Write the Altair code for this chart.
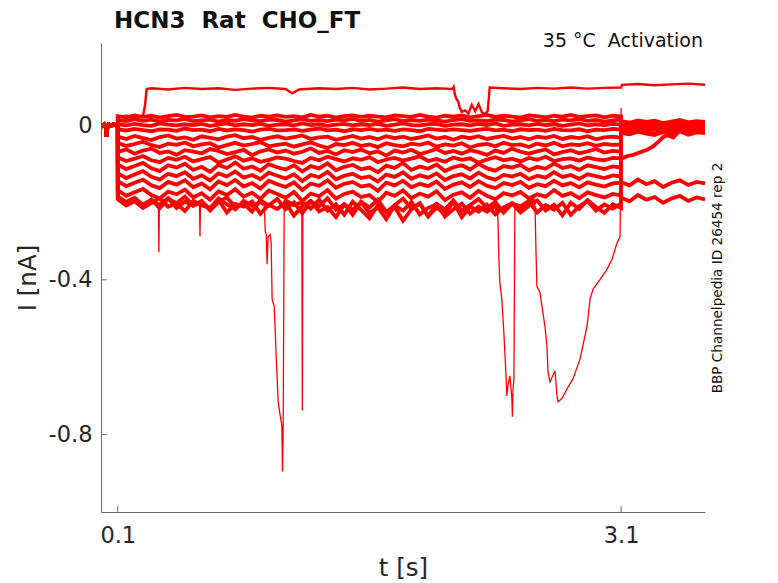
import altair as alt
import pandas as pd

# ---- values (t in s, I in nA) ----
X_TICKS = [0.1, 3.1]
Y_TICKS = [0, -0.4, -0.8]

# common baseline before the step
PRE_T = [0.0, 0.01, 0.02, 0.03, 0.034, 0.038, 0.045, 0.06, 0.075, 0.09, 0.1]
PRE_I = [0.001, -0.002, 0.002, -0.001, -0.030, -0.002, 0.001, -0.002, 0.002, -0.001, 0.000]

T_BAND = [0.1, 0.15, 0.2, 0.25, 0.3, 0.35, 0.4, 0.45, 0.5, 0.55,
          0.6, 0.65, 0.7, 0.75, 0.8, 0.85, 0.9, 0.95, 1.0, 1.05,
          1.1, 1.15, 1.2, 1.25, 1.3, 1.35, 1.4, 1.45, 1.5, 1.55,
          1.6, 1.65, 1.7, 1.75, 1.8, 1.85, 1.9, 1.95, 2.0, 2.05,
          2.1, 2.15, 2.2, 2.25, 2.3, 2.35, 2.4, 2.45, 2.5, 2.55,
          2.6, 2.65, 2.7, 2.75, 2.8, 2.85, 2.9, 2.95, 3.0, 3.05,
          3.1]
T_TAIL = [3.1, 3.15, 3.2, 3.25, 3.3, 3.35, 3.4, 3.45, 3.5, 3.55, 3.6]

B01 = [0.023, 0.020, 0.025, 0.021, 0.024, 0.019, 0.023, 0.026, 0.021, 0.022,
       0.025, 0.020, 0.023, 0.021, 0.026, 0.022, 0.019, 0.024, 0.022, 0.025,
       0.021, 0.023, 0.020, 0.026, 0.022, 0.024, 0.019, 0.023, 0.025, 0.021,
       0.024, 0.022, 0.020, 0.025, 0.023, 0.021, 0.026, 0.022, 0.019, 0.024,
       0.022, 0.025, 0.020, 0.023, 0.026, 0.021, 0.024, 0.022, 0.019, 0.025,
       0.023, 0.020, 0.024, 0.022, 0.026, 0.021, 0.023, 0.025, 0.020, 0.024,
       0.022]
B01_TAIL = [0.010, 0.006, 0.012, 0.008, 0.011, 0.005, 0.009, 0.013, 0.007, 0.010, 0.008]

B02 = [0.013, 0.010, 0.015, 0.011, 0.014, 0.009, 0.013, 0.012, 0.016, 0.010,
       0.012, 0.014, 0.009, 0.013, 0.011, 0.015, 0.012, 0.010, 0.014, 0.013,
       0.009, 0.012, 0.015, 0.011, 0.013, 0.010, 0.014, 0.012, 0.016, 0.011,
       0.013, 0.009, 0.012, 0.015, 0.010, 0.013, 0.011, 0.014, 0.012, 0.009,
       0.013, 0.015, 0.011, 0.012, 0.010, 0.014, 0.013, 0.009, 0.012, 0.015,
       0.011, 0.013, 0.010, 0.014, 0.012, 0.016, 0.011, 0.013, 0.009, 0.012,
       0.014]
B02_TAIL = [0.003, -0.001, 0.005, 0.001, 0.004, -0.002, 0.002, 0.006, 0.000, 0.003, 0.001]

B03 = [0.002, -0.001, 0.003, 0.000, -0.002, 0.004, 0.001, -0.001, 0.002, 0.000,
       0.003, -0.002, 0.001, 0.004, -0.001, 0.002, 0.000, 0.003, -0.002, 0.001,
       0.002, -0.001, 0.004, 0.000, 0.002, -0.002, 0.001, 0.003, -0.001, 0.002,
       0.000, 0.003, -0.002, 0.001, 0.004, 0.000, -0.001, 0.002, 0.003, -0.002,
       0.001, 0.002, -0.001, 0.003, 0.000, 0.004, -0.002, 0.001, 0.002, -0.001,
       0.003, 0.000, 0.002, -0.002, 0.001, 0.004, -0.001, 0.002, 0.000, 0.003,
       0.001]
B03_TAIL = [-0.004, -0.008, -0.002, -0.006, -0.003, -0.009, -0.005, -0.001, -0.007, -0.004, -0.006]

B04 = [-0.011, -0.014, -0.010, -0.013, -0.016, -0.011, -0.012, -0.015, -0.009, -0.013,
       -0.012, -0.016, -0.010, -0.014, -0.011, -0.013, -0.017, -0.012, -0.010, -0.014,
       -0.013, -0.011, -0.015, -0.012, -0.009, -0.014, -0.012, -0.016, -0.011, -0.013,
       -0.010, -0.014, -0.012, -0.015, -0.011, -0.013, -0.016, -0.010, -0.012, -0.014,
       -0.011, -0.013, -0.015, -0.012, -0.010, -0.014, -0.012, -0.016, -0.011, -0.013,
       -0.012, -0.015, -0.010, -0.013, -0.014, -0.011, -0.016, -0.012, -0.013, -0.010,
       -0.012]
B04_TAIL = [-0.010, -0.014, -0.008, -0.013, -0.009, -0.016, -0.011, -0.007, -0.012, -0.015, -0.010]

B05 = [-0.030, -0.036, -0.028, -0.034, -0.039, -0.031, -0.027, -0.035, -0.032, -0.038,
       -0.029, -0.033, -0.037, -0.030, -0.026, -0.034, -0.031, -0.038, -0.033, -0.029,
       -0.035, -0.031, -0.027, -0.036, -0.032, -0.030, -0.038, -0.033, -0.028, -0.035,
       -0.031, -0.037, -0.029, -0.034, -0.030, -0.036, -0.032, -0.027, -0.035, -0.031,
       -0.038, -0.030, -0.034, -0.029, -0.036, -0.032, -0.028, -0.035, -0.031, -0.037,
       -0.030, -0.033, -0.028, -0.036, -0.031, -0.034, -0.029, -0.037, -0.032, -0.030,
       -0.033]
B05_TAIL = [-0.016, -0.020, -0.013, -0.018, -0.022, -0.015, -0.019, -0.014, -0.021, -0.017, -0.018]

B06 = [-0.046, -0.054, -0.049, -0.043, -0.052, -0.057, -0.048, -0.051, -0.045, -0.055,
       -0.050, -0.047, -0.058, -0.052, -0.046, -0.053, -0.049, -0.044, -0.055, -0.051,
       -0.048, -0.056, -0.050, -0.045, -0.053, -0.059, -0.049, -0.052, -0.046, -0.054,
       -0.050, -0.057, -0.047, -0.052, -0.055, -0.048, -0.051, -0.045, -0.056, -0.050,
       -0.053, -0.047, -0.058, -0.051, -0.049, -0.055, -0.046, -0.052, -0.050, -0.057,
       -0.048, -0.053, -0.046, -0.055, -0.050, -0.052, -0.047, -0.054, -0.049, -0.051,
       -0.050]
B06_TAIL = [0.006, 0.002, 0.009, 0.004, 0.007, 0.001, 0.005, 0.010, 0.003, 0.006, 0.004]

B07 = [-0.070, -0.063, -0.074, -0.066, -0.061, -0.072, -0.068, -0.077, -0.065, -0.069,
       -0.073, -0.062, -0.067, -0.075, -0.070, -0.064, -0.078, -0.068, -0.063, -0.071,
       -0.066, -0.074, -0.069, -0.060, -0.072, -0.067, -0.076, -0.065, -0.070, -0.063,
       -0.073, -0.068, -0.079, -0.066, -0.071, -0.064, -0.075, -0.069, -0.062, -0.072,
       -0.067, -0.074, -0.065, -0.070, -0.077, -0.066, -0.072, -0.061, -0.069, -0.074,
       -0.068, -0.063, -0.076, -0.070, -0.065, -0.073, -0.068, -0.062, -0.071, -0.067,
       -0.069]
B07_TAIL = [-0.007, -0.011, -0.004, -0.009, -0.005, -0.012, -0.008, -0.003, -0.010, -0.006, -0.009]

B08 = [-0.084, -0.093, -0.087, -0.080, -0.091, -0.096, -0.085, -0.090, -0.082, -0.094,
       -0.088, -0.083, -0.097, -0.089, -0.081, -0.092, -0.086, -0.095, -0.090, -0.084,
       -0.087, -0.093, -0.098, -0.085, -0.091, -0.082, -0.088, -0.094, -0.086, -0.090,
       -0.083, -0.096, -0.089, -0.085, -0.092, -0.087, -0.081, -0.093, -0.088, -0.095,
       -0.084, -0.090, -0.086, -0.097, -0.089, -0.083, -0.091, -0.087, -0.094, -0.085,
       -0.090, -0.082, -0.093, -0.088, -0.086, -0.092, -0.084, -0.089, -0.091, -0.085,
       -0.086]
# slow recovery after the step back
R_T = [3.1, 3.106, 3.14, 3.172, 3.21, 3.255, 3.29, 3.315, 3.351, 3.375, 3.41, 3.453, 3.5, 3.55, 3.6]
R_I = [-0.082, -0.086, -0.080, -0.077, -0.071, -0.064, -0.055, -0.046, -0.031, -0.026,
       -0.032, -0.013, -0.009, -0.015, -0.011]

B09 = [-0.102, -0.114, -0.106, -0.098, -0.112, -0.119, -0.104, -0.110, -0.100, -0.116,
       -0.108, -0.121, -0.103, -0.111, -0.097, -0.113, -0.107, -0.118, -0.101, -0.109,
       -0.115, -0.104, -0.120, -0.106, -0.112, -0.099, -0.117, -0.108, -0.103, -0.114,
       -0.110, -0.122, -0.105, -0.111, -0.098, -0.116, -0.107, -0.113, -0.102, -0.119,
       -0.109, -0.104, -0.115, -0.100, -0.112, -0.118, -0.106, -0.110, -0.103, -0.117,
       -0.108, -0.113, -0.099, -0.111, -0.106, -0.116, -0.104, -0.109, -0.114, -0.107,
       -0.110]
B09_TAIL = [-0.002, -0.006, 0.001, -0.004, -0.008, -0.001, -0.005, 0.002, -0.007, -0.003, -0.005]

B10 = [-0.124, -0.137, -0.128, -0.119, -0.134, -0.141, -0.126, -0.132, -0.122, -0.139,
       -0.130, -0.143, -0.125, -0.133, -0.120, -0.136, -0.129, -0.140, -0.123, -0.131,
       -0.138, -0.127, -0.145, -0.129, -0.135, -0.121, -0.140, -0.131, -0.126, -0.137,
       -0.133, -0.146, -0.128, -0.134, -0.122, -0.139, -0.130, -0.136, -0.125, -0.142,
       -0.132, -0.127, -0.138, -0.123, -0.135, -0.141, -0.129, -0.133, -0.126, -0.140,
       -0.131, -0.136, -0.122, -0.134, -0.129, -0.139, -0.127, -0.132, -0.137, -0.130,
       -0.133]
B10_TAIL = [-0.012, -0.017, -0.010, -0.015, -0.011, -0.019, -0.013, -0.009, -0.016, -0.012, -0.014]

B11 = [-0.145, -0.158, -0.149, -0.141, -0.156, -0.163, -0.147, -0.154, -0.143, -0.161,
       -0.151, -0.166, -0.146, -0.155, -0.142, -0.159, -0.150, -0.164, -0.144, -0.153,
       -0.160, -0.148, -0.168, -0.151, -0.157, -0.143, -0.162, -0.152, -0.147, -0.159,
       -0.155, -0.170, -0.149, -0.156, -0.144, -0.161, -0.152, -0.158, -0.146, -0.165,
       -0.154, -0.148, -0.160, -0.145, -0.157, -0.163, -0.150, -0.155, -0.147, -0.162,
       -0.153, -0.158, -0.144, -0.156, -0.150, -0.161, -0.148, -0.154, -0.159, -0.151,
       -0.149]
B11_TAIL = [-0.148, -0.156, -0.141, -0.153, -0.145, -0.160, -0.149, -0.143, -0.155, -0.147, -0.151]

B12 = [-0.168, -0.183, -0.174, -0.165, -0.181, -0.190, -0.172, -0.179, -0.167, -0.187,
       -0.176, -0.193, -0.171, -0.181, -0.166, -0.185, -0.175, -0.191, -0.169, -0.178,
       -0.188, -0.173, -0.196, -0.177, -0.184, -0.168, -0.190, -0.178, -0.172, -0.186,
       -0.181, -0.199, -0.175, -0.183, -0.169, -0.189, -0.177, -0.185, -0.171, -0.194,
       -0.180, -0.174, -0.188, -0.170, -0.183, -0.192, -0.176, -0.182, -0.173, -0.190,
       -0.179, -0.185, -0.168, -0.183, -0.176, -0.189, -0.174, -0.181, -0.187, -0.178,
       -0.182]
B12_TAIL = [-0.188, -0.197, -0.181, -0.193, -0.186, -0.201, -0.190, -0.183, -0.196, -0.187, -0.192]

# trace with the deep dip near 1.08 s
A_T1 = [0.1, 0.15, 0.2, 0.25, 0.3, 0.35, 0.4, 0.45, 0.5, 0.55,
        0.6, 0.65, 0.7, 0.75, 0.8, 0.85, 0.9, 0.95, 0.973]
A_I1 = [-0.186, -0.203, -0.191, -0.212, -0.197, -0.206, -0.189, -0.214, -0.198, -0.207,
        -0.201, -0.215, -0.190, -0.205, -0.218, -0.196, -0.209, -0.199, -0.206]
A_DIP_T = [0.973, 0.979, 0.985, 0.99, 0.996, 1.008, 1.014, 1.02, 1.032,
           1.038, 1.044, 1.05, 1.056, 1.068, 1.078, 1.082, 1.086, 1.092]
A_DIP_I = [-0.206, -0.275, -0.283, -0.360, -0.288, -0.283, -0.304, -0.450, -0.468,
           -0.527, -0.597, -0.656, -0.715, -0.751, -0.777, -0.895, -0.777, -0.193]
A_T2 = [1.092, 1.15, 1.2]
A_I2 = [-0.193, -0.207, -0.199,
        -0.216, -0.193, -0.221, -0.205, -0.232, -0.198, -0.219, -0.241, -0.207, -0.226,
        -0.212, -0.247, -0.218, -0.203, -0.235, -0.214, -0.228, -0.199, -0.238, -0.211,
        -0.224, -0.206, -0.231, -0.213, -0.202, -0.226, -0.209, -0.195, -0.221, -0.206,
        -0.233, -0.201, -0.217, -0.194, -0.212, -0.227, -0.205, -0.214]
A_TAIL = [0.000, -0.004, 0.003, -0.002, 0.002, -0.006, -0.001, 0.004, -0.003, 0.001, -0.002]

# narrow single spikes
SPK1_T = [0.342, 0.345, 0.348]
SPK1_I = [-0.205, -0.329, -0.200]
SPK2_T = [0.587, 0.59, 0.593]
SPK2_I = [-0.198, -0.288, -0.201]
SPK3_T = [1.197, 1.2, 1.203]
SPK3_I = [-0.199, -0.738, -0.203]

# trace with the dip near 2.45 s
D_I1 = [-0.192, -0.208, -0.197, -0.214, -0.201, -0.189, -0.211, -0.203, -0.222, -0.196,
        -0.207, -0.215, -0.193, -0.226, -0.204, -0.211, -0.198, -0.229, -0.206, -0.217,
        -0.201, -0.234, -0.209, -0.196, -0.223, -0.212, -0.238, -0.205, -0.219, -0.200,
        -0.227, -0.213, -0.243, -0.208, -0.221, -0.199, -0.231, -0.214, -0.205, -0.236,
        -0.218, -0.203, -0.229, -0.211, -0.224, -0.208]
D_DIP_T = [2.365, 2.371, 2.377, 2.389, 2.395, 2.401, 2.413, 2.419, 2.425, 2.437,
           2.449, 2.452, 2.455, 2.461, 2.467]
D_DIP_I = [-0.226, -0.340, -0.406, -0.450, -0.494, -0.535, -0.638, -0.700, -0.674, -0.648,
           -0.707, -0.754, -0.690, -0.656, -0.205]
D_I2 = [-0.214, -0.198, -0.226, -0.207, -0.219, -0.201, -0.232, -0.210, -0.196, -0.221,
        -0.205, -0.216, -0.203]
D_TAIL = [-0.020, -0.024, -0.017, -0.022, -0.026, -0.018, -0.023, -0.016, -0.025, -0.019, -0.021]

# trace with the slow dip from 2.59 s to 3.1 s
C_I1 = [-0.184, -0.199, -0.188, -0.206, -0.193, -0.215, -0.190, -0.202, -0.185, -0.209,
        -0.196, -0.221, -0.199, -0.187, -0.212, -0.203, -0.224, -0.194, -0.208, -0.191,
        -0.217, -0.200, -0.228, -0.197, -0.210, -0.189, -0.219, -0.205, -0.232, -0.198,
        -0.213, -0.193, -0.225, -0.207, -0.190, -0.216, -0.202, -0.236, -0.204, -0.218,
        -0.195, -0.222, -0.207, -0.191, -0.214, -0.199, -0.226, -0.203, -0.211, -0.196]
C_DIP_T = [2.586, 2.592, 2.598, 2.616, 2.628, 2.646, 2.658, 2.664, 2.676, 2.706,
           2.718, 2.724, 2.747, 2.777, 2.813, 2.855, 2.897, 2.915, 2.933, 2.975,
           3.016, 3.046, 3.076, 3.094, 3.1, 3.1]
C_DIP_I = [-0.193, -0.314, -0.417, -0.432, -0.468, -0.520, -0.571, -0.638, -0.664, -0.635,
           -0.700, -0.715, -0.707, -0.682, -0.656, -0.605, -0.520, -0.450, -0.424, -0.399,
           -0.373, -0.347, -0.304, -0.288, 0.044, -0.004]
C_TAIL = [-0.004, -0.004, 0.001, -0.006, -0.002, -0.008, -0.003, 0.000, -0.005, -0.001, -0.004]

# the one trace that sits above zero
TOP_T = [0.1, 0.15, 0.2, 0.25, 0.262, 0.272, 0.3, 0.4, 0.5, 0.6, 0.7, 0.8, 0.9, 1.0, 1.1,
         1.14, 1.18, 1.3, 1.4, 1.5, 1.6, 1.7, 1.8, 1.9, 2.0, 2.05,
         2.096, 2.102, 2.11, 2.12, 2.13, 2.138, 2.15, 2.17, 2.19, 2.21, 2.23, 2.25, 2.27, 2.29,
         2.305, 2.317, 2.4, 2.5, 2.6, 2.7, 2.8, 2.9, 3.0, 3.1,
         3.105, 3.2, 3.3, 3.4, 3.5, 3.6]
TOP_I = [0.021, 0.024, 0.020, 0.023, 0.050, 0.093, 0.095, 0.092, 0.096, 0.093, 0.095, 0.091, 0.094, 0.096, 0.093,
         0.082, 0.092, 0.095, 0.093, 0.096, 0.092, 0.094, 0.097, 0.093, 0.095, 0.094,
         0.093, 0.098, 0.078, 0.066, 0.059, 0.045, 0.034, 0.038, 0.030, 0.052, 0.036, 0.054, 0.033, 0.028,
         0.037, 0.097, 0.095, 0.093, 0.096, 0.094, 0.097, 0.094, 0.096, 0.097,
         0.104, 0.106, 0.103, 0.105, 0.107, 0.104]

TITLE = "HCN3  Rat  CHO_FT"
CONDITION = "35 °C  Activation"
SOURCE = "BBP Channelpedia ID 26454 rep 2"

RED = "#ff0000"
AXIS_GREY = "#6a6a6a"
TEXT_GREY = "#262626"
FONT = "DejaVu Sans"
NBSP = "\u00a0"
NOISY = 3.8   # noisy plateaus read as a thick band
THIN = 1.3    # fast excursions


def trace(name, times, values, width=NOISY):
    """One sweep segment as a long table, keeping the drawing order"""
    assert len(times) == len(values), name
    return pd.DataFrame({"trace": name, "t": times, "i": values,
                         "k": range(len(times)), "w": width})


def keep_spaces(text):
    return text.replace("  ", " " + NBSP)


sweeps = pd.concat([
    trace("b01", PRE_T + T_BAND + T_TAIL, PRE_I + B01 + B01_TAIL),
    trace("b02", PRE_T + T_BAND + T_TAIL, PRE_I + B02 + B02_TAIL),
    trace("b03", PRE_T + T_BAND + T_TAIL, PRE_I + B03 + B03_TAIL),
    trace("b04", PRE_T + T_BAND + T_TAIL, PRE_I + B04 + B04_TAIL),
    trace("b05", PRE_T + T_BAND + T_TAIL, PRE_I + B05 + B05_TAIL),
    trace("b06", PRE_T + T_BAND + T_TAIL, PRE_I + B06 + B06_TAIL),
    trace("b07", PRE_T + T_BAND + T_TAIL, PRE_I + B07 + B07_TAIL),
    trace("b08", PRE_T + T_BAND + R_T, PRE_I + B08 + R_I),
    trace("b09", PRE_T + T_BAND + T_TAIL, PRE_I + B09 + B09_TAIL),
    trace("b10", PRE_T + T_BAND + T_TAIL, PRE_I + B10 + B10_TAIL),
    trace("b11", PRE_T + T_BAND + T_TAIL, PRE_I + B11 + B11_TAIL),
    trace("b12", PRE_T + T_BAND + T_TAIL, PRE_I + B12 + B12_TAIL),
    trace("a1", PRE_T + A_T1, PRE_I + A_I1),
    trace("a_dip", A_DIP_T, A_DIP_I, THIN),
    trace("a2", A_T2 + T_BAND[23:] + T_TAIL, A_I2 + A_TAIL),
    trace("spk1", SPK1_T, SPK1_I, THIN),
    trace("spk2", SPK2_T, SPK2_I, THIN),
    trace("spk3", SPK3_T, SPK3_I, THIN),
    trace("d1", PRE_T + T_BAND[:46] + D_DIP_T[:1], PRE_I + D_I1 + D_DIP_I[:1]),
    trace("d_dip", D_DIP_T, D_DIP_I, THIN),
    trace("d2", D_DIP_T[-1:] + T_BAND[48:] + T_TAIL, D_DIP_I[-1:] + D_I2 + D_TAIL),
    trace("c1", PRE_T + T_BAND[:50] + C_DIP_T[:1], PRE_I + C_I1 + C_DIP_I[:1]),
    trace("c_dip", C_DIP_T, C_DIP_I, THIN),
    trace("c2", T_TAIL, C_TAIL),
    trace("top", PRE_T + TOP_T, PRE_I + TOP_I, 2.4),
], ignore_index=True)

x_scale = alt.Scale(domain=[0, 3.6], nice=False, zero=False)
y_scale = alt.Scale(domain=[-1.0, 0.212], nice=False, zero=False)

axis_style = dict(
    domainColor=AXIS_GREY, domainWidth=1, ticks=False, tickSize=0, grid=False,
    labelFont=FONT, labelFontSize=22.5, labelColor=TEXT_GREY,
    titleFont=FONT, titleFontSize=24.5, titleFontWeight="normal", titleColor=TEXT_GREY,
)
x_axis = alt.Axis(
    values=X_TICKS, format=".1f", title="t [s]",
    labelBaseline="alphabetic", labelPadding=30, labelFlush=False,
    titleBaseline="alphabetic", titleX=302, titleY=63, titleAlign="center",
    **axis_style)
y_axis = alt.Axis(
    values=Y_TICKS, title="I [nA]", labelPadding=9,
    labelExpr=f"datum.value == 0 ? '0{NBSP * 3}' : '-' + format(-datum.value, '.1f')",
    titleBaseline="alphabetic", titleAngle=270, titleX=-66, titleY=234.5, titleAlign="center",
    **axis_style)

lines = alt.Chart(sweeps).mark_line(color=RED, clip=True).encode(
    x=alt.X("t:Q", scale=x_scale, axis=x_axis),
    y=alt.Y("i:Q", scale=y_scale, axis=y_axis),
    strokeWidth=alt.StrokeWidth("w:Q", scale=None),
    detail="trace:N",
    order="k:Q",
)

# inward ticks, as in the original figure
x_ticks = alt.Chart(pd.DataFrame({"t": X_TICKS})).mark_rule(color=AXIS_GREY, strokeWidth=1).encode(
    x=alt.X("t:Q", scale=x_scale, axis=x_axis),
    y=alt.value(469),
    y2=alt.value(463),
)
y_ticks = alt.Chart(pd.DataFrame({"i": Y_TICKS})).mark_rule(color=AXIS_GREY, strokeWidth=1).encode(
    y=alt.Y("i:Q", scale=y_scale, axis=y_axis),
    x=alt.value(0),
    x2=alt.value(6),
)

title = alt.Chart(pd.DataFrame({"s": [keep_spaces(TITLE)]})).mark_text(
    font=FONT, fontSize=23, fontWeight="bold", color="#111111", align="left", baseline="alphabetic"
).encode(text="s:N", x=alt.value(13), y=alt.value(-15.5))

condition = alt.Chart(pd.DataFrame({"s": [keep_spaces(CONDITION)]})).mark_text(
    font=FONT, fontSize=19, color="#111111", align="right", baseline="alphabetic"
).encode(text="s:N", x=alt.value(602), y=alt.value(3.7))

source = alt.Chart(pd.DataFrame({"s": [SOURCE]})).mark_text(
    font=FONT, fontSize=13.6, color="#111111", align="center", baseline="alphabetic", angle=270
).encode(text="s:N", x=alt.value(621), y=alt.value(235))

chart = alt.layer(lines, x_ticks, y_ticks, title, condition, source).properties(
    width=604,
    height=469,
    autosize=alt.AutoSizeParams(type="none"),
    padding={"left": 93, "top": 35, "right": 65, "bottom": 74},
).configure_view(stroke=None)

chart.save("out.html", embed_options={"renderer": "svg", "actions": False})
